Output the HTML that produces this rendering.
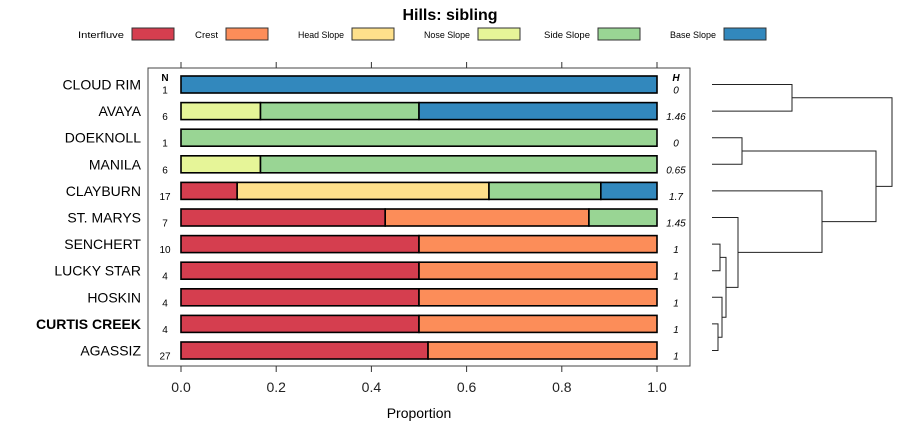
<!DOCTYPE html>
<html><head><meta charset="utf-8"><style>
body{margin:0;background:#fff;}
svg text{font-family:"Liberation Sans",sans-serif;}
</style></head><body>
<svg id="chart" width="900" height="440" viewBox="0 0 900 440" xmlns="http://www.w3.org/2000/svg">
<text x="450" y="20" text-anchor="middle" font-size="16" font-weight="bold">Hills: sibling</text>
<g id="legend"></g>
<rect x="148" y="68" width="542" height="298" fill="none" stroke="#444" stroke-width="1"/>
<g id="axes"></g><g id="bars"></g><g id="dendro"></g>
<text x="419" y="418" text-anchor="middle" font-size="14">Proportion</text>
</svg>
<script>
const categories=["Interfluve","Crest","Head Slope","Nose Slope","Side Slope","Base Slope"];
const colors=["#D53E4F","#FC8D59","#FEE08B","#E6F598","#99D594","#3288BD"];
const names=["CLOUD RIM","AVAYA","DOEKNOLL","MANILA","CLAYBURN","ST. MARYS","SENCHERT","LUCKY STAR","HOSKIN","CURTIS CREEK","AGASSIZ"];
const nVals=[1,6,1,6,17,7,10,4,4,4,27];
const hVals=["0","1.46","0","0.65","1.7","1.45","1","1","1","1","1"];
const interfluve=[0,0,0,0,0.118,0.429,0.5,0.5,0.5,0.5,0.519];
const crest=[0,0,0,0,0,0.428,0.5,0.5,0.5,0.5,0.481];
const headSlope=[0,0,0,0,0.529,0,0,0,0,0,0];
const noseSlope=[0,0.167,0,0.167,0,0,0,0,0,0,0];
const sideSlope=[0,0.333,1,0.833,0.235,0.143,0,0,0,0,0];
const baseSlope=[1,0.5,0,0,0.118,0,0,0,0,0,0];
const xTicks=[0,0.2,0.4,0.6,0.8,1.0];
const xTickLabels=["0.0","0.2","0.4","0.6","0.8","1.0"];
// dendrogram merges: [childA, childB, height]; leaves 0..10, clusters 11+
const merges=[[9,10,0.03],[6,7,0.04],[8,11,0.05],[12,13,0.07],[5,14,0.13],[2,3,0.15],[0,1,0.40],[4,15,0.55],[16,18,0.82],[17,19,0.90]];
const NS="http://www.w3.org/2000/svg";
const svg=document.getElementById('chart');
function el(tag,attrs,parent,txt){const e=document.createElementNS(NS,tag);for(const k in attrs)e.setAttribute(k,attrs[k]);if(txt!==undefined)e.textContent=txt;parent.appendChild(e);return e;}
const xS=v=>181+v*476;
const yS=i=>84.5+i*26.6;
const series=[interfluve,crest,headSlope,noseSlope,sideSlope,baseSlope];
// legend
const lg=document.getElementById('legend');
const lx=[132,226,352,478,598,724];
categories.forEach((c,i)=>{
 const t=el('text',{x:lx[i]-8,y:38,'text-anchor':'end','font-size':9.5,'textLength':c.length*4.6,'lengthAdjust':'spacingAndGlyphs'},lg,c);
 
 
 const r=el('rect',{x:lx[i],y:28,width:42,height:12,fill:colors[i],stroke:'#333','stroke-width':1},lg);
 
 
});
// axes
const ax=document.getElementById('axes');
xTicks.forEach((v,i)=>{
 const x=xS(v);
 el('line',{x1:x,x2:x,y1:366,y2:372,stroke:'#333'},ax);
 el('line',{x1:x,x2:x,y1:62,y2:68,stroke:'#333'},ax);
 const t=el('text',{x:x,y:392,'text-anchor':'middle','font-size':14,fill:'#222'},ax,xTickLabels[i]);
 
 
});
el('text',{x:165,y:81,'text-anchor':'middle','font-size':10,'font-weight':'bold'},ax,'N');
el('text',{x:676,y:81,'text-anchor':'middle','font-size':10,'font-weight':'bold','font-style':'italic'},ax,'H');
// bars
const bg=document.getElementById('bars');
names.forEach((n,i)=>{
 const y=yS(i);
 const lab=el('text',{x:141,y:y+5,'text-anchor':'end','font-size':14,'font-weight':n==='CURTIS CREEK'?'bold':'normal'},bg,n);
 
 
 const nt=el('text',{x:165,y:y+9,'text-anchor':'middle','font-size':10},bg,String(nVals[i]));
 
 
 const ht=el('text',{x:676,y:y+9,'text-anchor':'middle','font-size':10,'font-style':'italic'},bg,hVals[i]);
 
 
 let acc=0;
 series.forEach((s,k)=>{
  if(s[i]<=0)return;
  const r=el('rect',{x:xS(acc),y:y-8.5,width:xS(acc+s[i])-xS(acc),height:17,fill:colors[k],stroke:'#000','stroke-width':1.6},bg);
  
  
  acc+=s[i];
 });
});
// dendrogram
const dg=document.getElementById('dendro');
const dX=h=>712+h*200;
const pos={};
for(let i=0;i<11;i++)pos[i]={y:yS(i),h:0};
merges.forEach((m,j)=>{
 const a=pos[m[0]],b=pos[m[1]],x=dX(m[2]);
 const p=el('path',{d:`M${dX(a.h)},${a.y}H${x}V${b.y}H${dX(b.h)}`,fill:'none',stroke:'#222','stroke-width':1},dg);
 
 
 pos[11+j]={y:(a.y+b.y)/2,h:m[2]};
});
</script>
</body></html>
